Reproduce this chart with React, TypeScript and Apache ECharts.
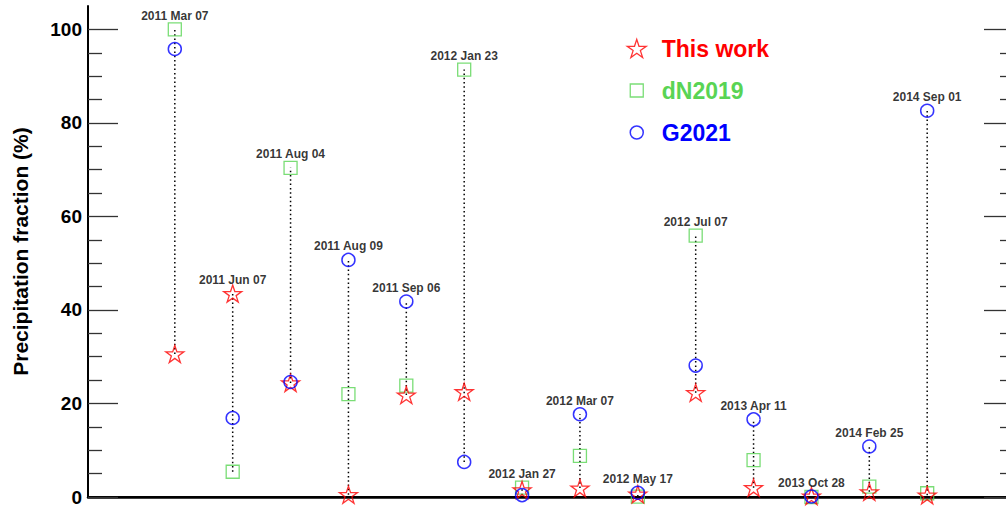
import React, { useEffect, useRef } from "react";
import * as echarts from "echarts";

const eventLabels = [
  "2011 Mar 07", "2011 Jun 07", "2011 Aug 04", "2011 Aug 09", "2011 Sep 06",
  "2012 Jan 23", "2012 Jan 27", "2012 Mar 07", "2012 May 17", "2012 Jul 07",
  "2013 Apr 11", "2013 Oct 28", "2014 Feb 25", "2014 Sep 01",
];
const thisWork = [30.6, 43.5, 24.4, 0.5, 21.8, 22.5, 1.5, 1.9, 0.6, 22.3, 2.0, 0.2, 1.1, 0.4];
const dN2019 = [100.0, 5.4, 70.4, 22.0, 23.8, 91.4, 2.0, 8.8, 0.1, 55.9, 7.9, 0.0, 2.2, 0.8];
const g2021 = [95.8, 16.9, 24.6, 50.7, 41.8, 7.5, 0.4, 17.7, 0.9, 28.1, 16.6, 0.1, 10.8, 82.6];
const majorTicks = [0, 20, 40, 60, 80, 100];
const minorTicks = [5, 10, 15, 25, 30, 35, 45, 50, 55, 65, 70, 75, 85, 90, 95];

const RED = "#ff0000";
const GREEN = "#59d454";
const BLUE = "#0000ff";
const FONT = "'Liberation Sans', Arial, Helvetica, sans-serif";

function starPath(cx: number, cy: number, R: number, r: number): string {
  const pts: string[] = [];
  for (let k = 0; k < 10; k++) {
    const ang = (-90 + k * 36) * Math.PI / 180;
    const rad = k % 2 === 0 ? R : r;
    pts.push(`${(cx + rad * Math.cos(ang)).toFixed(3)},${(cy + rad * Math.sin(ang)).toFixed(3)}`);
  }
  return "M" + pts.join("L") + "Z";
}

const starSymbol = "path://" + starPath(10, 10, 10, 3.82);
const starIcon = "path://M0,0M40,20" + starPath(20, 10.9, 10, 3.82);
const squareIcon = "path://M0,0M40,20M13.5,3.5L26.5,3.5L26.5,16.5L13.5,16.5Z";
const circleIcon = "path://M0,0M40,20M26.5,10A6.5,6.5,0,1,1,13.5,10A6.5,6.5,0,1,1,26.5,10Z";

export default function App() {
  const ref = useRef<HTMLDivElement>(null);
  useEffect(() => {
    if (!ref.current) return;
    const chart = echarts.init(ref.current, null, { renderer: "svg" });
    const xs = eventLabels.map((_, i) => i + 1.5);
    const rangeData = eventLabels.map((_, i) => {
      const vals = [thisWork[i], dN2019[i], g2021[i]];
      return [xs[i], Math.min(...vals), Math.max(...vals)];
    });
    const labelData = eventLabels.map((name, i) => [xs[i], Math.max(thisWork[i], dN2019[i], g2021[i]), name]);

    const yBase = {
      type: "value",
      min: 0,
      max: 105,
      splitLine: { show: false },
      axisLabel: { show: false },
    };
    const tickStyle = { color: "#333", width: 1.3 };

    const option: any = {
      animation: false,
      backgroundColor: "#fff",
      grid: { left: 88, top: 6, width: 926, height: 491, outerBoundsMode: "none", containLabel: false },
      legend: {
        orient: "vertical",
        left: 611,
        top: 32,
        padding: 5,
        itemWidth: 40,
        itemHeight: 20,
        itemGap: 19,
        selectedMode: false,
        textStyle: { fontSize: 23, fontWeight: "bold", fontFamily: FONT, lineHeight: 20 },
        data: [
          { name: "This work", icon: starIcon, itemStyle: { color: "transparent", borderColor: RED, borderWidth: 1.3 }, textStyle: { color: RED } },
          { name: "dN2019", icon: squareIcon, itemStyle: { color: "transparent", borderColor: GREEN, borderWidth: 1.3 }, textStyle: { color: GREEN } },
          { name: "G2021", icon: circleIcon, itemStyle: { color: "transparent", borderColor: BLUE, borderWidth: 1.5 }, textStyle: { color: BLUE } },
        ],
      },
      xAxis: [
        {
          type: "value", min: 0, max: 16, position: "bottom",
          axisLine: { show: true, lineStyle: { color: "#000", width: 2.5 } },
          axisTick: { show: false }, axisLabel: { show: false }, splitLine: { show: false },
        },
        {
          type: "value", min: 0, max: 16, position: "top",
          axisLine: { show: true, lineStyle: { color: "#000", width: 2 } },
          axisTick: { show: false }, axisLabel: { show: false }, splitLine: { show: false },
        },
      ],
      yAxis: [
        {
          ...yBase,
          position: "left",
          name: "Precipitation fraction (%)",
          nameLocation: "middle",
          nameGap: 57,
          nameTextStyle: { fontSize: 21, fontWeight: "bold", fontFamily: FONT, color: "#000" },
          axisLine: { show: true, lineStyle: { color: "#000", width: 2 } },
          axisTick: { show: true, inside: true, length: 30, customValues: majorTicks, lineStyle: tickStyle },
          axisLabel: { show: true, customValues: majorTicks, margin: 6, fontSize: 19, fontWeight: "bold", fontFamily: FONT, color: "#000" },
        },
        {
          ...yBase,
          position: "left",
          axisLine: { show: false },
          axisTick: { show: true, inside: true, length: 14, customValues: minorTicks, lineStyle: tickStyle },
        },
        {
          ...yBase,
          position: "right",
          axisLine: { show: true, lineStyle: { color: "#000", width: 2 } },
          axisTick: { show: true, inside: true, length: 30, customValues: majorTicks, lineStyle: tickStyle },
        },
        {
          ...yBase,
          position: "right",
          axisLine: { show: false },
          axisTick: { show: true, inside: true, length: 14, customValues: minorTicks, lineStyle: tickStyle },
        },
      ],
      series: [
        {
          type: "custom",
          name: "range",
          silent: true,
          z: 1,
          renderItem: (params: any, api: any) => {
            const x = api.value(0);
            const p1 = api.coord([x, api.value(1)]);
            const p2 = api.coord([x, api.value(2)]);
            return {
              type: "line",
              shape: { x1: p1[0], y1: p1[1], x2: p2[0], y2: p2[1] },
              style: { stroke: "#000", lineWidth: 1.5, lineDash: [1.5, 2.8] },
            };
          },
          encode: { x: 0, y: [1, 2] },
          data: rangeData,
        },
        {
          type: "scatter",
          name: "This work",
          symbol: starSymbol,
          symbolKeepAspect: true,
          symbolSize: 18,
          z: 4,
          itemStyle: { color: "transparent", borderColor: RED, borderWidth: 1.3 },
          data: xs.map((x, i) => [x, thisWork[i]]),
        },
        {
          type: "scatter",
          name: "dN2019",
          symbol: "rect",
          symbolSize: 13,
          z: 3,
          itemStyle: { color: "transparent", borderColor: GREEN, borderWidth: 1.3 },
          data: xs.map((x, i) => [x, dN2019[i]]),
        },
        {
          type: "scatter",
          name: "G2021",
          symbol: "circle",
          symbolSize: 13,
          z: 5,
          itemStyle: { color: "transparent", borderColor: BLUE, borderWidth: 1.5 },
          data: xs.map((x, i) => [x, g2021[i]]),
        },
        {
          type: "scatter",
          name: "labels",
          silent: true,
          symbolSize: 1,
          z: 6,
          itemStyle: { color: "transparent" },
          label: {
            show: true,
            position: "top",
            distance: 7,
            formatter: (p: any) => p.value[2],
            fontSize: 12,
            fontWeight: "bold",
            fontFamily: FONT,
            color: "#000",
          },
          data: labelData,
        },
      ],
    };
    chart.setOption(option);
    return () => chart.dispose();
  }, []);
  return <div ref={ref} style={{ position: "fixed", left: 0, top: 0, width: 1006, height: 510 }} />;
}
